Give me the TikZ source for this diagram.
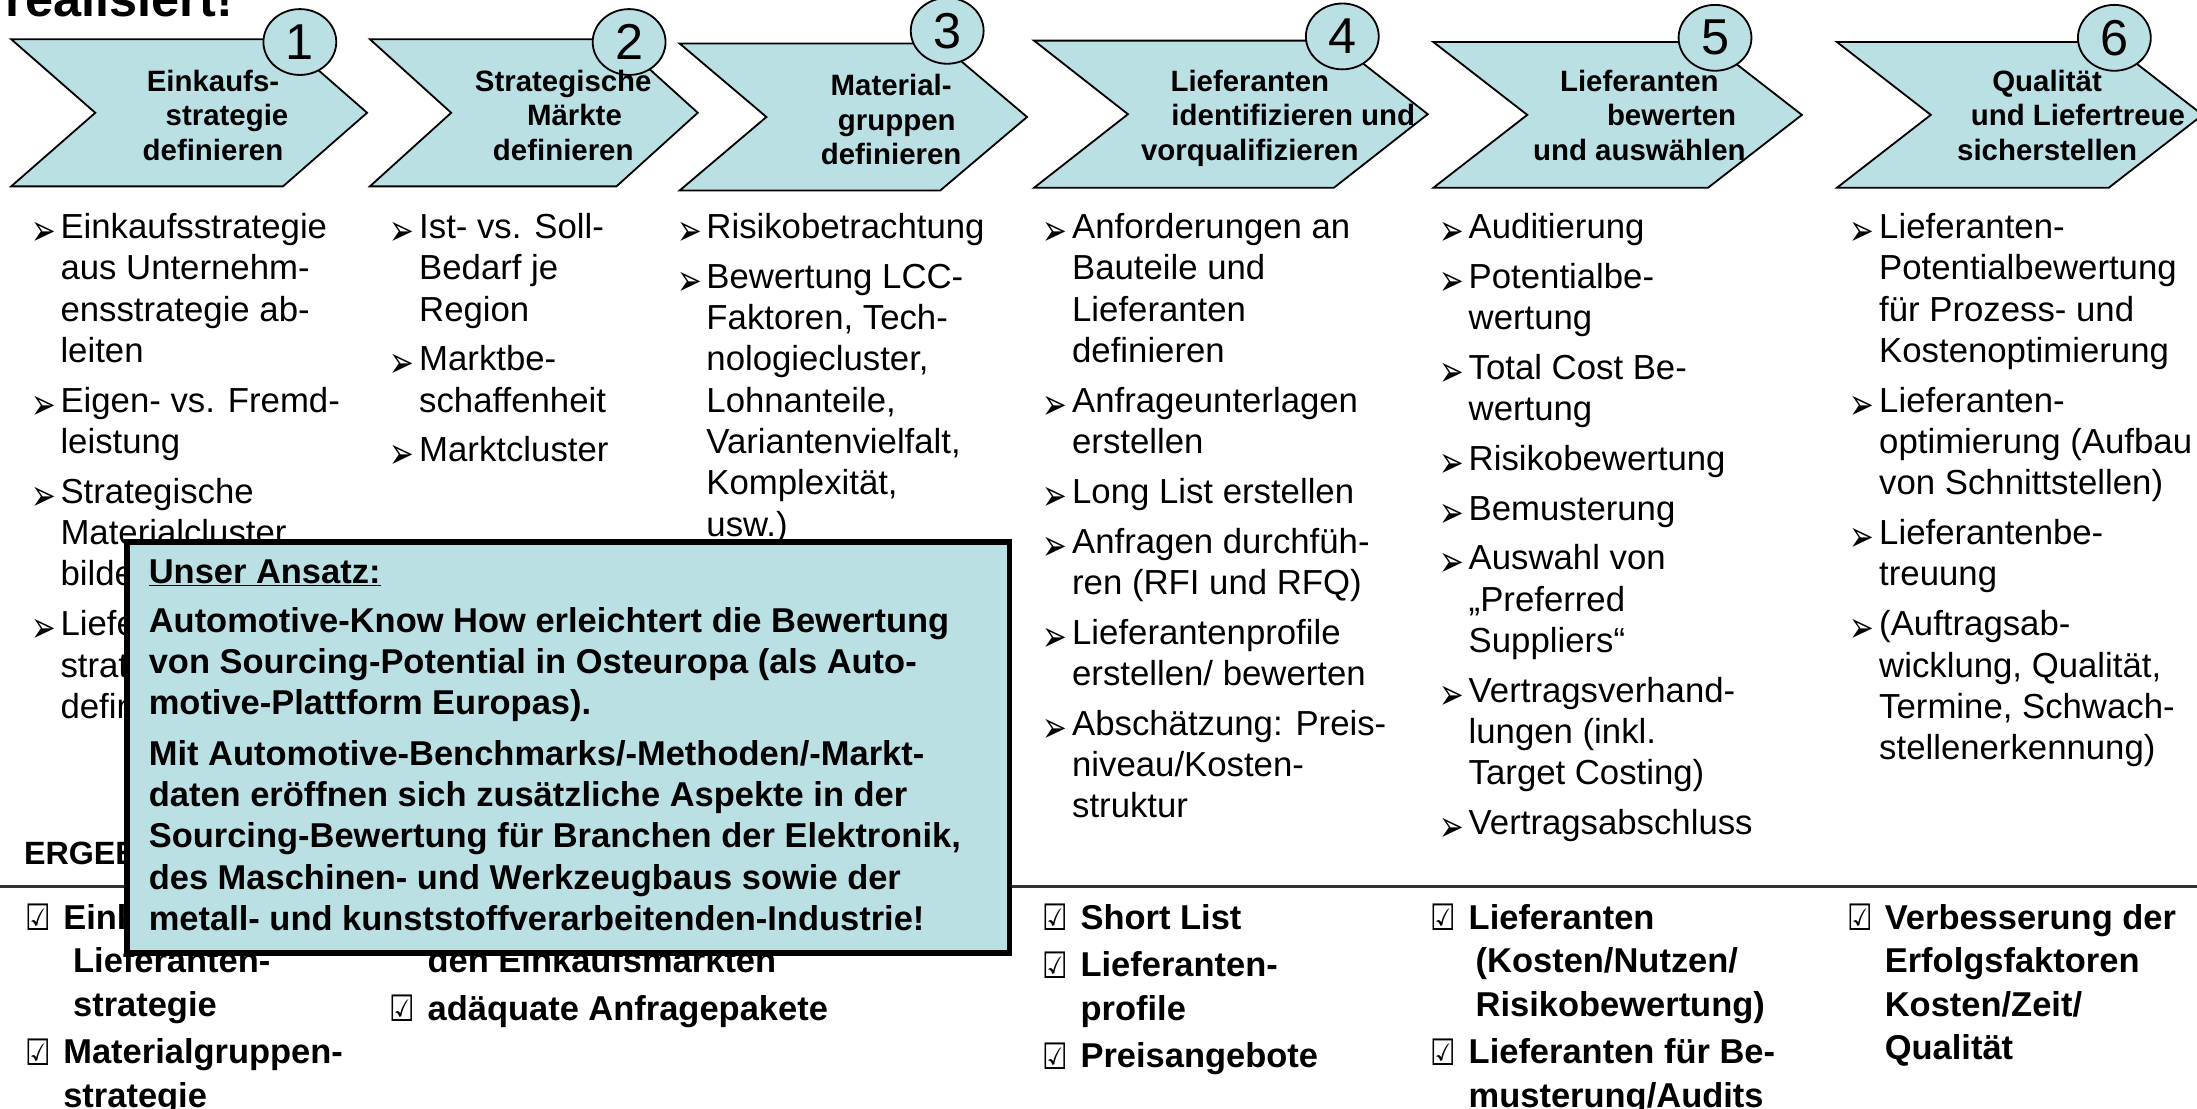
\documentclass[tikz,border=0pt]{standalone}
\usepackage{fontspec}
\setmainfont{Liberation Sans}
\newfontfamily\dejavu{DejaVu Sans}
\usetikzlibrary{shapes.geometric}
\definecolor{cyanfill}{RGB}{186,224,228}
\newcommand{\bul}{\makebox[21pt][l]{\raisebox{-5pt}{\scalebox{0.68}[1]{\dejavu\fontsize{31}{31}\selectfont ➢}}}}
\newcommand{\ind}{\hspace*{21pt}}
\newcommand{\chk}{\makebox[27pt][l]{\raisebox{-1pt}{\scalebox{0.78}[1]{\dejavu\fontsize{26}{26}\selectfont ☑}}}}
\newcommand{\rind}{\hspace*{27pt}}
\begin{document}
\begin{tikzpicture}[x=1pt,y=-1pt,
  chev/.style={draw=black,line width=1.3pt,fill=cyanfill,line join=miter},
  numcirc/.style={ellipse,draw=black,line width=1.3pt,fill=cyanfill,minimum width=52pt,minimum height=47pt,inner sep=0pt,font=\fontsize{36}{36}\selectfont},
  chevlabel/.style={align=center,inner sep=0pt,font=\bfseries\fontsize{21}{24.5}\selectfont},
  body/.style={align=left,anchor=north west,inner sep=0pt,font=\fontsize{24.8}{29.5}\selectfont},
  res/.style={align=left,anchor=north west,inner sep=0pt,font=\bfseries\fontsize{24.6}{31}\selectfont},
  boxtext/.style={align=left,anchor=north west,inner sep=0pt,font=\bfseries\fontsize{24.6}{29.5}\selectfont},
  ansatzbox/.style={draw=black,line width=4pt,fill=cyanfill,anchor=north west,inner sep=0pt},
  sepline/.style={draw=black!80,line width=2pt}]
\useasboundingbox (0,0) rectangle (1568,791);
\fill[white] (0,0) rectangle (1568,791);

% title (cut off at top)
\node[anchor=base west,inner sep=0pt,font=\bfseries\fontsize{36}{36}\selectfont] (title) at (4,12) {realisiert!};

% chevrons
\foreach \L/\R/\d/\T/\B in {8/202/60/28/133, 264/440/58/28/133, 485/671/62/31/136, 738/952/67/29/134, 1023/1219/67/30/134, 1311/1505/67/30/134}{
  \draw[chev] (\L,\T) -- (\R,\T) -- ({\R+\d},{(\T+\B)/2}) -- (\R,\B) -- (\L,\B) -- ({\L+\d},{(\T+\B)/2}) -- cycle;
}

% step numbers
\node[numcirc] (n1) at (214,30) {1};
\node[numcirc] (n2) at (449,30) {2};
\node[numcirc] (n3) at (676,22) {3};
\node[numcirc] (n4) at (958,26) {4};
\node[numcirc] (n5) at (1224,27) {5};
\node[numcirc] (n6) at (1509,27) {6};

% chevron labels
\node[chevlabel] (c1) at (152,85) {\strut Einkaufs-\\\hspace*{20pt}strategie\\definieren\strut};
\node[chevlabel] (c2) at (402,85) {\strut Strategische\\\hspace*{16pt}Märkte\\definieren\strut};
\node[chevlabel] (c3) at (636,88) {\strut Material-\\\hspace*{8pt}gruppen\\definieren\strut};
\node[chevlabel] (c4) at (892,85) {\strut Lieferanten\\\hspace*{62pt}identifizieren und\\vorqualifizieren\strut};
\node[chevlabel] (c5) at (1170,85) {\strut Lieferanten\\\hspace*{46pt}bewerten\\und auswählen\strut};
\node[chevlabel] (c6) at (1461,85) {\strut Qualität\\\hspace*{44pt}und Liefertreue\\sicherstellen\strut};

% activity lists
\node[body] (a1) at (22,149.35) {\bul Einkaufsstrategie\strut\\
\ind aus Unternehm-\\
\ind ensstrategie ab-\\
\ind leiten\\[6pt]
\bul Eigen- vs. Fremd-\\
\ind leistung\\[6pt]
\bul Strategische\\
\ind Materialcluster\\
\ind bilden\\[6pt]
\bul Lieferanten-\\
\ind strategie\\
\ind definieren};

\node[body] (a2) at (278,149.35) {\bul Ist- vs. Soll-\strut\\
\ind Bedarf je\\
\ind Region\\[6pt]
\bul Marktbe-\\
\ind schaffenheit\\[6pt]
\bul Marktcluster};

\node[body] (a3) at (483,149.35) {\bul Risikobetrachtung\strut\\[6pt]
\bul Bewertung LCC-\\
\ind Faktoren, Tech-\\
\ind nologiecluster,\\
\ind Lohnanteile,\\
\ind Variantenvielfalt,\\
\ind Komplexität,\\
\ind usw.)};

\node[body] (a4) at (744,149.35) {\bul Anforderungen an\strut\\
\ind Bauteile und\\
\ind Lieferanten\\
\ind definieren\\[6pt]
\bul Anfrageunterlagen\\
\ind erstellen\\[6pt]
\bul Long List erstellen\\[6pt]
\bul Anfragen durchfüh-\\
\ind ren (RFI und RFQ)\\[6pt]
\bul Lieferantenprofile\\
\ind erstellen/ bewerten\\[6pt]
\bul Abschätzung: Preis-\\
\ind niveau/Kosten-\\
\ind struktur};

\node[body] (a5) at (1027,149.35) {\bul Auditierung\strut\\[6pt]
\bul Potentialbe-\\
\ind wertung\\[6pt]
\bul Total Cost Be-\\
\ind wertung\\[6pt]
\bul Risikobewertung\\[6pt]
\bul Bemusterung\\[6pt]
\bul Auswahl von\\
\ind „Preferred\\
\ind Suppliers“\\[6pt]
\bul Vertragsverhand-\\
\ind lungen (inkl.\\
\ind Target Costing)\\[6pt]
\bul Vertragsabschluss};

\node[body] (a6) at (1320,149.35) {\bul Lieferanten-\strut\\
\ind Potentialbewertung\\
\ind für Prozess- und\\
\ind Kostenoptimierung\\[6pt]
\bul Lieferanten-\\
\ind optimierung (Aufbau\\
\ind von Schnittstellen)\\[6pt]
\bul Lieferantenbe-\\
\ind treuung\\[6pt]
\bul (Auftragsab-\\
\ind wicklung, Qualität,\\
\ind Termine, Schwach-\\
\ind stellenerkennung)};

% results heading and separator
\node[anchor=base west,inner sep=0pt,font=\bfseries\fontsize{23}{23}\selectfont] (erg) at (17,617) {ERGEBNISSE};
\coordinate (sepL) at (0,632.5);
\coordinate (sepR) at (1568,632.5);
\draw[sepline] (sepL) -- (sepR);

% results
\node[res] (r1) at (18,641.3) {\chk Einkaufs- und\strut\\
\rind\hspace*{7pt}Lieferanten-\\
\rind\hspace*{7pt}strategie\\[3pt]
\chk Materialgruppen-\\
\rind strategie};

\node[res] (r2) at (278,641.3) {\rind\strut\\
\rind den Einkaufsmärkten\\[3pt]
\chk adäquate Anfragepakete};

\node[res] (r4) at (744,641.3) {\chk Short List\strut\\[3pt]
\chk Lieferanten-\\
\rind profile\\[3pt]
\chk Preisangebote};

\node[res] (r5) at (1021,641.3) {\chk Lieferanten\strut\\
\rind\hspace*{5pt}(Kosten/Nutzen/\\
\rind\hspace*{5pt}Risikobewertung)\\[3pt]
\chk Lieferanten für Be-\\
\rind musterung/Audits};

\node[res] (r6) at (1318,641.3) {\chk Verbesserung der\strut\\
\rind Erfolgsfaktoren\\
\rind Kosten/Zeit/\\
\rind Qualität};

% overlay box
\node[ansatzbox,minimum width=630pt,minimum height=293pt] (box) at (88.5,385) {};
\node[boxtext] (boxtxt) at (106,395.35) {\underline{Unser Ansatz:}\strut\\[5.5pt]
Automotive-Know How erleichtert die Bewertung\\
von Sourcing-Potential in Osteuropa (als Auto-\\
motive-Plattform Europas).\\[6.5pt]
Mit Automotive-Benchmarks/-Methoden/-Markt-\\
daten eröffnen sich zusätzliche Aspekte in der\\
Sourcing-Bewertung für Branchen der Elektronik,\\
des Maschinen- und Werkzeugbaus sowie der\\
metall- und kunststoffverarbeitenden-Industrie!};
\end{tikzpicture}
\end{document}
